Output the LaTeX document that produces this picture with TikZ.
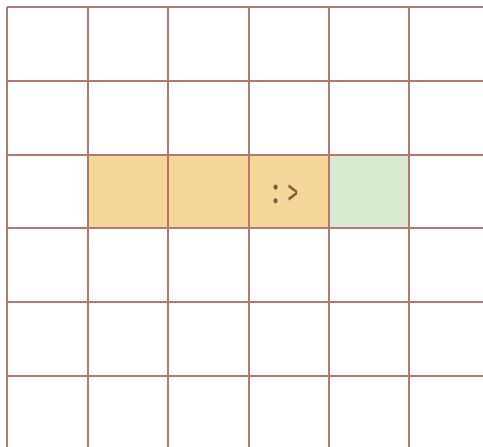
\documentclass[tikz,border=0pt]{standalone}
\usepackage{fontspec}
\setmainfont{Fira Sans}
\definecolor{gridc}{HTML}{B07A70}
\definecolor{bodyc}{HTML}{F5D79A}
\definecolor{foodc}{HTML}{D9EAD3}
\definecolor{facec}{HTML}{8B5A3C}
\begin{document}
\begin{tikzpicture}[x=1pt,y=-1pt,
  gridline/.style={draw=gridc,line width=2pt}]
\useasboundingbox (0,0) rectangle (483,447);
\fill[white] (0,0) rectangle (483,447);
\fill[bodyc] (88,155) rectangle (329,228);
\fill[foodc] (329,155) rectangle (409,228);
\foreach \x in {7,88,168,249,329,409} \draw[gridline] (\x,7) -- (\x,460);
\foreach \y in {7,81,155,228,302,376} \draw[gridline] (7,\y) -- (490,\y);
\node[text=facec,font=\fontsize{30}{36}\selectfont,inner sep=0pt,anchor=base] (face) at (286,203) {\scalebox{1}[1.25]{:}\hspace{8pt}\raisebox{-2pt}{\scalebox{0.75}[1.25]{>}}};
\end{tikzpicture}
\end{document}
